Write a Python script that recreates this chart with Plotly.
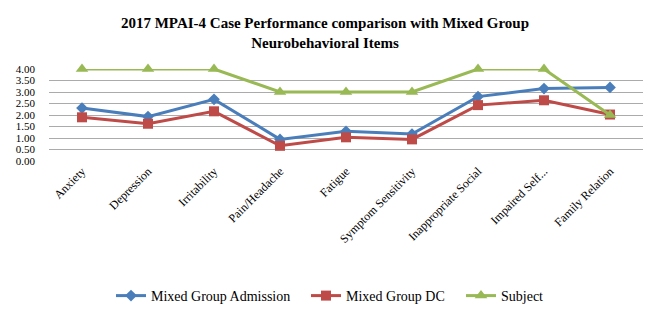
import plotly.graph_objects as go

categories = ["Anxiety", "Depression", "Irritability", "Pain/Headache", "Fatigue",
              "Symptom Sensitivity", "Inappropriate Social", "Impaired Self...", "Family Relation"]
admission = [2.30, 1.93, 2.68, 0.94, 1.29, 1.17, 2.80, 3.15, 3.20]
dc = [1.90, 1.62, 2.16, 0.66, 1.03, 0.94, 2.43, 2.64, 2.02]
subject = [4, 4, 4, 3, 3, 3, 4, 4, 2]
yticks = [0, 0.5, 1, 1.5, 2, 2.5, 3, 3.5, 4]

font = "Liberation Serif"

fig = go.Figure()
fig.add_trace(go.Scatter(x=categories, y=admission, name="Mixed Group Admission", mode="lines+markers",
                         line=dict(color="#4A7EBB", width=3), marker=dict(symbol="diamond", size=9, color="#4A7EBB"),
                         cliponaxis=False, legendwidth=150))
fig.add_trace(go.Scatter(x=categories, y=dc, name="Mixed Group DC", mode="lines+markers",
                         line=dict(color="#BE4B48", width=3), marker=dict(symbol="square", size=10, color="#BE4B48"),
                         cliponaxis=False, legendwidth=110))
fig.add_trace(go.Scatter(x=categories, y=subject, name="Subject", mode="lines+markers",
                         line=dict(color="#98B954", width=3), marker=dict(symbol="triangle-up", size=11, color="#98B954"),
                         cliponaxis=False, legendwidth=50))

fig.update_layout(
    width=650, height=326,
    margin=dict(l=49, r=7, t=69, b=165),
    paper_bgcolor="white", plot_bgcolor="white",
    font=dict(family=font, size=12, color="black"),
    title=dict(text="<b>2017 MPAI-4 Case Performance comparison with Mixed Group<br>Neurobehavioral Items</b>",
               x=0.5, xanchor="center", y=1 - 28/326, yanchor="middle", font=dict(size=15, family=font)),
    xaxis=dict(showgrid=False, showline=False, ticks="", tickangle=-45, tickfont=dict(size=12, family=font),
               range=[-0.5, 8.5]),
    yaxis=dict(range=[0, 4], tickvals=yticks, tickformat=".2f", showgrid=True, gridcolor="#ababab",
               gridwidth=1, zeroline=False, showline=False, tickfont=dict(size=11, family=font), ticks="",
               ticklabelstandoff=13),
    showlegend=True,
    legend=dict(orientation="h", x=(111 - 49) / 594, xanchor="left", yref="container", y=1 - 296/326,
                yanchor="middle", font=dict(size=14, family=font), itemwidth=30, traceorder="normal"),
)

fig.write_html("out.html")
